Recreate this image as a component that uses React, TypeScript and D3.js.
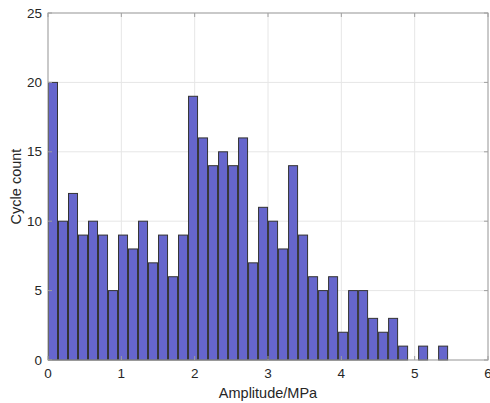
import React from "react";
import * as d3 from "d3";

const counts = [20, 10, 12, 9, 10, 9, 5, 9, 8, 10, 7, 9, 6, 9, 19, 16, 14, 15, 14, 16, 7, 11, 10, 8, 14, 9, 6, 5, 6, 2, 5, 5, 3, 2, 3, 1, 0, 1, 0, 1];
const binWidth = 0.1364;
const xTicks = [0, 1, 2, 3, 4, 5, 6];
const yTicks = [0, 5, 10, 15, 20, 25];
const xLabel = "Amplitude/MPa";
const yLabel = "Cycle count";

export default function App() {
  const W = 490, H = 403;
  const L = 48, R = 488, T = 13, B = 360;
  const x = d3.scaleLinear().domain([0, 6]).range([L, R]);
  const y = d3.scaleLinear().domain([0, 25]).range([B, T]);
  const font = "Liberation Sans, Arial, sans-serif";
  const tickLen = 4;
  return (
    <svg width={W} height={H} style={{ position: "absolute", left: 0, top: 0, background: "#fff" }}>
      {xTicks.map((t) => (
        <line key={"gx" + t} x1={x(t)} x2={x(t)} y1={T} y2={B} stroke="#e6e6e6" strokeWidth={1} />
      ))}
      {yTicks.map((t) => (
        <line key={"gy" + t} x1={L} x2={R} y1={y(t)} y2={y(t)} stroke="#e6e6e6" strokeWidth={1} />
      ))}
      {counts.map((c, i) => {
        const x0 = x(i * binWidth);
        const x1 = x((i + 1) * binWidth);
        const w = (x1 - x0) * 0.9;
        const cx = (x0 + x1) / 2;
        return (
          <rect key={i} x={cx - w / 2} y={y(c)} width={w} height={B - y(c)} fill="#6666cc" stroke="#333" strokeWidth={1} />
        );
      })}
      <rect x={L} y={T} width={R - L} height={B - T} fill="none" stroke="#a0a0a0" strokeWidth={1} />
      {xTicks.map((t) => (
        <g key={"tx" + t}>
          <line x1={x(t)} x2={x(t)} y1={B} y2={B - tickLen} stroke="#a0a0a0" />
          <line x1={x(t)} x2={x(t)} y1={T} y2={T + tickLen} stroke="#a0a0a0" />
          <text x={x(t)} y={B + 18} textAnchor="middle" fontFamily={font} fontSize={13.5} fill="#262626">{t}</text>
        </g>
      ))}
      {yTicks.map((t) => (
        <g key={"ty" + t}>
          <line x1={L} x2={L + tickLen} y1={y(t)} y2={y(t)} stroke="#a0a0a0" />
          <line x1={R} x2={R - tickLen} y1={y(t)} y2={y(t)} stroke="#a0a0a0" />
          <text x={L - 6} y={y(t) + 4.5} textAnchor="end" fontFamily={font} fontSize={13.5} fill="#262626">{t}</text>
        </g>
      ))}
      <text x={(L + R) / 2} y={398} textAnchor="middle" fontFamily={font} fontSize={14.5} fill="#262626">{xLabel}</text>
      <text transform={`translate(21,${(T + B) / 2}) rotate(-90)`} textAnchor="middle" fontFamily={font} fontSize={14.5} fill="#262626">{yLabel}</text>
    </svg>
  );
}
